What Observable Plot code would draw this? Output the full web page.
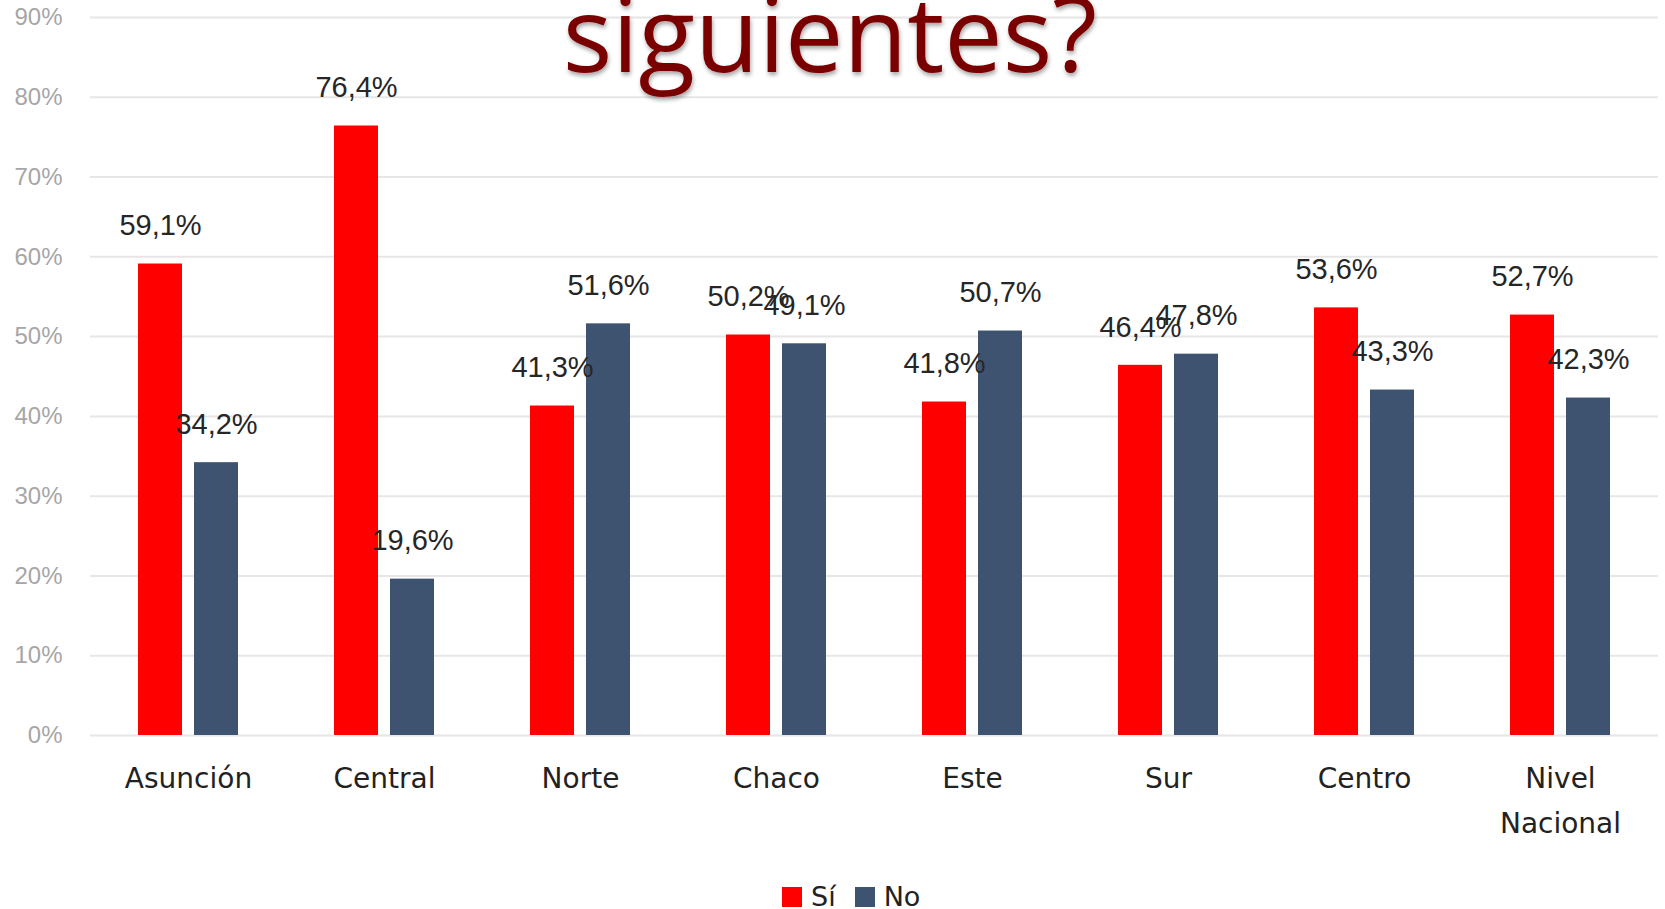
<!DOCTYPE html>
<html>
<head>
<meta charset="utf-8">
<script src="https://cdn.jsdelivr.net/npm/d3@7"></script>
<script src="https://cdn.jsdelivr.net/npm/@observablehq/plot@0.6"></script>
<style>
  html, body { margin: 0; padding: 0; background: #fff; }
  #wrap { position: relative; width: 1665px; height: 909px; overflow: hidden; }
  #legend { position: absolute; left: 782px; top: 885px; height: 24px; line-height: 24px; display: flex; align-items: center;
            font-family: "DejaVu Sans", sans-serif; font-size: 27px; color: #222; }
  #legend .sw { width: 20px; height: 20px; display: inline-block; margin-right: 9px; }
  #legend .it { display: flex; align-items: center; margin-right: 19px; }
</style>
</head>
<body>
<div id="wrap"></div>
<script>
const regions = ["Asunción", "Central", "Norte", "Chaco", "Este", "Sur", "Centro", "Nivel Nacional"];
const series = ["Sí", "No"];
const siValues = [59.1, 76.4, 41.3, 50.2, 41.8, 46.4, 53.6, 52.7];
const noValues = [34.2, 19.6, 51.6, 49.1, 50.7, 47.8, 43.3, 42.3];
const colors = ["#ff0000", "#3d5370"];
const yTicks = [0, 10, 20, 30, 40, 50, 60, 70, 80, 90];
const titleText = "siguientes?";

const data = [];
regions.forEach((r, i) => {
  data.push({region: r, series: "Sí", value: siValues[i]});
  data.push({region: r, series: "No", value: noValues[i]});
});
const fmt = v => v.toFixed(1).replace(".", ",") + "%";

const chart = Plot.plot({
  width: 1665,
  height: 870,
  marginTop: 17,
  marginBottom: 135,
  marginLeft: 90,
  marginRight: 7,
  style: {background: "#fff", overflow: "visible"},
  fx: {domain: regions, padding: 0},
  x: {domain: series, paddingInner: 0.21, paddingOuter: 0.85, axis: null},
  y: {domain: [0, 90]},
  color: {domain: series, range: colors},
  marks: [
    Plot.ruleY(yTicks, {stroke: "#e6e6e6", strokeWidth: 2}),
    Plot.axisY(yTicks, {tickSize: 0, tickPadding: 28, fontSize: 24, fill: "#a6a6a6",
      fontFamily: "Liberation Sans, Arial, sans-serif", tickFormat: d => d + "%", label: null}),
    Plot.barY(data, {fx: "region", x: "series", y: "value", fill: "series"}),
    Plot.text(data, {fx: "region", x: "series", y: "value", text: d => fmt(d.value), dy: -38,
      fontSize: 29, fill: "#262626", fontFamily: "Liberation Sans, Arial, sans-serif"}),
    Plot.axisFx({anchor: "bottom", tickSize: 0, tickPadding: 21, fontSize: 28, lineHeight: 1.6,
      fill: "#222", fontFamily: "DejaVu Sans, sans-serif", label: null,
      tickFormat: d => d.replace(" ", "\n")})
  ]
});

const svg = d3.select(chart);
const defs = svg.append("defs");
const f = defs.append("filter").attr("id", "bevel").attr("x", "-5%").attr("y", "-20%").attr("width", "110%").attr("height", "140%");
f.append("feDropShadow").attr("dx", 1).attr("dy", 3).attr("stdDeviation", 2).attr("flood-color", "#000").attr("flood-opacity", 0.35);
svg.append("text")
  .attr("x", 830).attr("y", 72)
  .attr("text-anchor", "middle")
  .attr("font-family", "Open Sans, sans-serif")
  .attr("font-size", 104)
  .attr("fill", "#7a0000")
  .attr("filter", "url(#bevel)")
  .text(titleText);

const wrap = document.getElementById("wrap");
wrap.appendChild(chart);

const legend = document.createElement("div");
legend.id = "legend";
series.forEach((s, i) => {
  const it = document.createElement("span");
  it.className = "it";
  const sw = document.createElement("span");
  sw.className = "sw";
  sw.style.background = colors[i];
  it.appendChild(sw);
  it.appendChild(document.createTextNode(s));
  legend.appendChild(it);
});
wrap.appendChild(legend);
</script>
</body>
</html>
